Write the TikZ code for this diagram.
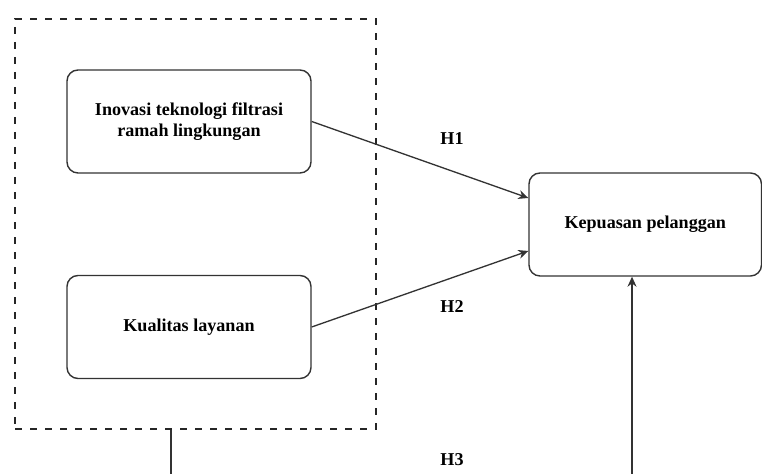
\documentclass[tikz,border=0pt]{standalone}
\usepackage{fontspec}
\setmainfont{Liberation Serif}
\usetikzlibrary{arrows.meta}
\begin{document}
\begin{tikzpicture}[
    x=1cm,
    y=1cm,
    >={Stealth[length=2mm,width=1.8mm]},
    font=\fontsize{10.3}{12}\selectfont\bfseries,
    variabel/.style={
        draw=black!80,
        rounded corners=0.22cm,
        line width=0.8pt,
        minimum width=4.88cm,
        minimum height=2.06cm,
        align=center
    },
    kelompok/.style={
        draw=black!85,
        dash pattern=on 0.14cm off 0.16cm,
        line width=1.6pt,
        minimum width=7.22cm,
        minimum height=8.20cm
    },
    panah/.style={
        ->,
        draw=black!80,
        line width=0.75pt
    },
    hipotesis/.style={
        inner sep=0pt
    }
]
    \useasboundingbox (0,0) rectangle (15.24,9.48);
    \clip (0,0) rectangle (15.24,9.48);

    \node[kelompok] (grup) at (3.91,5.00) {};

    \node[variabel] (inovasi) at (3.78,7.05)
        {Inovasi teknologi filtrasi\\ramah lingkungan};
    \node[variabel] (layanan) at (3.78,2.94)
        {Kualitas layanan};
    \node[variabel, minimum width=4.65cm] (kepuasan) at (12.905,4.99)
        {Kepuasan pelanggan};

    \draw[panah] (inovasi.east) -- ([yshift=0.53cm]kepuasan.west);
    \draw[panah] (layanan.east) -- ([yshift=-0.53cm]kepuasan.west);

    \coordinate (bawah-a) at (3.42,-0.40);
    \coordinate (bawah-b) at (12.64,-0.40);
    \draw[panah] (grup.south -| bawah-a) -- (bawah-a) -- (bawah-b)
        -- (kepuasan.south -| bawah-b);

    \node[hipotesis] (h1) at (9.04,6.70) {H1};
    \node[hipotesis] (h2) at (9.04,3.34) {H2};
    \node[hipotesis] (h3) at (9.04,0.28) {H3};
\end{tikzpicture}
\end{document}
